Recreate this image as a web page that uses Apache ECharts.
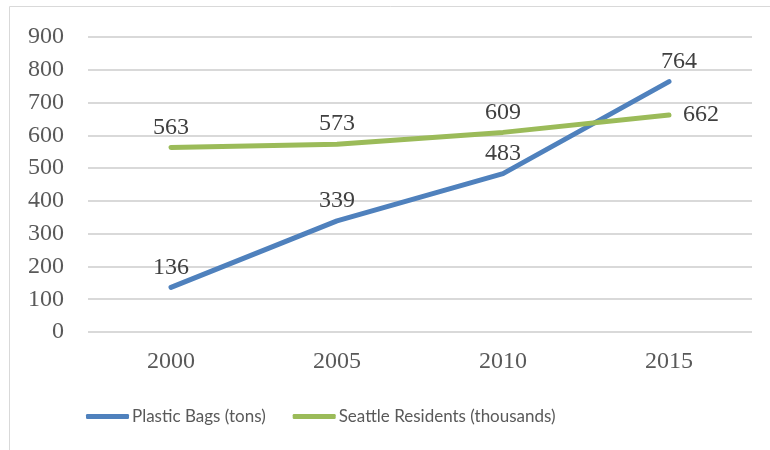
<!DOCTYPE html>
<html>
<head>
<meta charset="utf-8">
<script src="https://cdn.jsdelivr.net/npm/echarts@6/dist/echarts.min.js"></script>
<style>html,body{margin:0;padding:0;background:#fff;}#c{width:770px;height:450px;}</style>
</head>
<body>
<div id="c"></div>
<script>
const categories = ['2000', '2005', '2010', '2015'];
const plasticBags = [136, 339, 483, 764];
const seattleResidents = [563, 573, 609, 662];
const seriesNames = ['Plastic Bags (tons)', 'Seattle Residents (thousands)'];

const chart = echarts.init(document.getElementById('c'));
const serif = 'Liberation Serif';
const labelStyle = {show: true, fontFamily: serif, fontSize: 24, color: '#404040', position: 'top', distance: 8};
const lastIdx = categories.length - 1;
const blueData = plasticBags.map((v, i) =>
  i === lastIdx ? {value: v, label: {offset: [10, 0]}} : v);
const greenData = seattleResidents.map((v, i) =>
  i === lastIdx ? {value: v, label: {position: 'right', distance: 14}} : v);
chart.setOption({
  animation: false,
  graphic: [{type: 'rect', shape: {x: 9.5, y: 6.5, width: 800, height: 500}, style: {fill: 'none', stroke: '#D9D9D9', lineWidth: 1}, silent: true}],
  grid: {left: 88, right: 18, top: 37, bottom: 118},
  legend: {
    left: 86, top: 408, padding: 0, itemWidth: 43, itemHeight: 5, icon: 'roundRect', itemGap: 27,
    textStyle: {fontFamily: 'Lato', fontSize: 17, color: '#595959', padding: [0, 0, 0, -2]},
    data: seriesNames
  },
  xAxis: {
    type: 'category', data: categories, boundaryGap: true,
    axisLine: {show: false}, axisTick: {show: false},
    axisLabel: {fontFamily: serif, fontSize: 24, color: '#595959', margin: 18}
  },
  yAxis: {
    type: 'value', min: 0, max: 900, interval: 100,
    axisLine: {show: false}, axisTick: {show: false},
    axisLabel: {fontFamily: serif, fontSize: 24, color: '#595959', margin: 24},
    splitLine: {lineStyle: {color: '#D9D9D9', width: 2}}
  },
  series: [
    {name: seriesNames[0], type: 'line', data: blueData, symbol: 'circle', symbolSize: 0, showSymbol: true, color: '#4F81BD',
     lineStyle: {width: 5, cap: 'round', join: 'round'},
     label: labelStyle},
    {name: seriesNames[1], type: 'line', data: greenData, symbol: 'circle', symbolSize: 0, showSymbol: true, color: '#9BBB59',
     lineStyle: {width: 5, cap: 'round', join: 'round'},
     label: labelStyle}
  ]
});
</script>
</body>
</html>
